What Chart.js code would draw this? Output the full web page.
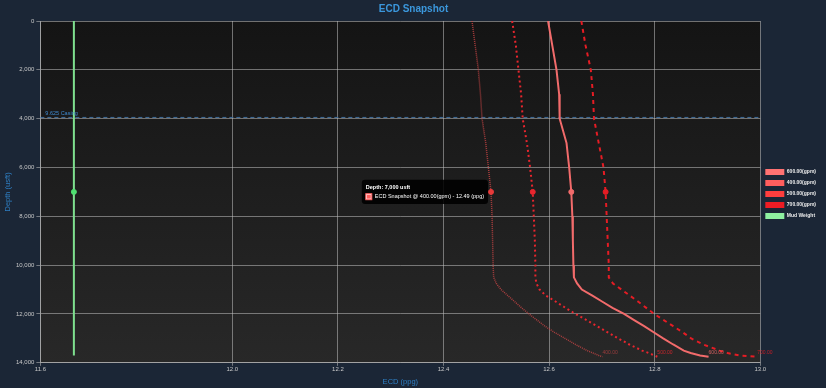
<!DOCTYPE html>
<html lang="en">
<head>
<meta charset="UTF-8">
<title>ECD Snapshot</title>
<script src="https://cdn.jsdelivr.net/npm/chart.js"></script>
<style>
  html, body { margin: 0; padding: 0; background: #1b2636; }
  #wrap { width: 826px; height: 388px; position: relative; }
</style>
</head>
<body>
<div id="wrap"><canvas id="chart"></canvas></div>
<script>
// depth (usft) shared by the four ECD curves
const depths = [0, 1000, 2000, 3000, 4000, 5000, 6000, 7000, 8000, 9000, 10000, 10500, 10750,
  11000, 11250, 11500, 11750, 12000, 12250, 12500, 12750, 13000, 13250, 13500, 13600, 13700, 13750];

// ECD (ppg) per flow rate
const ecd600 = [12.598, 12.606, 12.614, 12.619, 12.620, 12.633, 12.638, 12.642, 12.644, 12.645, 12.646, 12.647, 12.653,
  12.662, 12.682, 12.701, 12.720, 12.742, 12.761, 12.780, 12.798, 12.816, 12.835, 12.855, 12.868, 12.886, 12.902];
const ecd400 = [12.454, 12.460, 12.466, 12.470, 12.473, 12.480, 12.485, 12.490, 12.492, 12.493, 12.494, 12.495, 12.500,
  12.509, 12.522, 12.535, 12.548, 12.562, 12.577, 12.592, 12.610, 12.630, 12.650, 12.672, 12.683, 12.694, 12.701];
const ecd500 = [12.530, 12.537, 12.542, 12.547, 12.550, 12.558, 12.564, 12.569, 12.571, 12.573, 12.574, 12.574, 12.576,
  12.582, 12.594, 12.613, 12.631, 12.650, 12.671, 12.691, 12.711, 12.731, 12.752, 12.776, 12.789, 12.799, 12.805];
const ecd700 = [12.661, 12.669, 12.679, 12.683, 12.685, 12.694, 12.703, 12.707, 12.709, 12.711, 12.713, 12.713, 12.721,
  12.737, 12.753, 12.769, 12.784, 12.799, 12.817, 12.835, 12.853, 12.869, 12.892, 12.923, 12.938, 12.961, 12.994];

const flowRates = ['600.00', '400.00', '500.00', '700.00'];

const mwDepths = [0, 7000, 13700];
const mudWeight = [11.7, 11.7, 11.7];

const casingName = '9.625 Casing';
const casingDepth = [3950, 3950];
const casingX = [11.6365, 13.0];

const snapshotDepth = 7000;
const xMin = 11.6365, xMax = 13.0;
const xTicks = [11.6365, 12.0, 12.2, 12.4, 12.6, 12.8, 13.0];

const lineColors = ['#f26b6b', 'rgba(205,70,70,0.8)', '#e8262e', '#e51c24'];
const legendColors = ['#ff7272', '#ff5e5e', '#ff3e3e', '#ee1c24', '#8ef0a0'];
const dashes = [[], [1, 1], [2, 3], [4, 4]];
const FONT = 'Arial, "Liberation Sans", sans-serif';

const ecdSeries = [ecd600, ecd400, ecd500, ecd700];
const datasets = ecdSeries.map((vals, i) => ({
  label: flowRates[i] + '(gpm)',
  gpm: flowRates[i],
  data: vals.map((v, k) => ({ x: v, y: depths[k] })),
  borderColor: lineColors[i],
  backgroundColor: legendColors[i],
  borderWidth: i === 1 ? 1.5 : 2,
  borderDash: dashes[i],
  pointRadius: 0,
  pointHoverRadius: 2.5,
  pointHoverBorderWidth: 1,
  pointHoverBackgroundColor: i === 1 ? '#e83a3a' : lineColors[i],
  pointHoverBorderColor: i === 1 ? '#e83a3a' : lineColors[i],
  showLine: true,
  tension: 0
}));
datasets.push({
  label: 'Mud Weight',
  data: mudWeight.map((v, k) => ({ x: v, y: mwDepths[k] })),
  borderColor: '#7fe08f',
  backgroundColor: legendColors[4],
  borderWidth: 2,
  pointRadius: 0,
  pointHoverRadius: 2.5,
  pointHoverBackgroundColor: '#4fe070',
  pointHoverBorderColor: '#4fe070',
  showLine: true
});
datasets.push({
  label: casingName,
  data: casingX.map((v, k) => ({ x: v, y: casingDepth[k] })),
  borderColor: '#3f6f9e',
  borderWidth: 1,
  borderDash: [4, 3],
  pointRadius: 0,
  pointHoverRadius: 0,
  showLine: true
});

const areaBg = {
  id: 'areaBg',
  beforeDraw(chart) {
    const { ctx, chartArea: a } = chart;
    const g = ctx.createLinearGradient(0, a.top, 0, a.bottom);
    g.addColorStop(0, '#141414');
    g.addColorStop(1, '#282828');
    ctx.save();
    ctx.fillStyle = g;
    ctx.fillRect(a.left, a.top, a.right - a.left, a.bottom - a.top);
    ctx.restore();
  }
};

const endLabels = {
  id: 'endLabels',
  afterDatasetsDraw(chart) {
    const ctx = chart.ctx;
    ctx.save();
    ctx.font = '5px ' + FONT;
    ctx.textAlign = 'left';
    ctx.textBaseline = 'bottom';
    for (let i = 0; i < 4; i++) {
      const pts = chart.getDatasetMeta(i).data;
      const p = pts[pts.length - 1];
      ctx.fillStyle = lineColors[i];
      ctx.globalAlpha = 0.85;
      ctx.fillText(chart.data.datasets[i].gpm, p.x, p.y - 2);
    }
    // casing label
    const cm = chart.getDatasetMeta(5).data[0];
    ctx.globalAlpha = 1;
    ctx.fillStyle = '#3f88cc';
    ctx.font = '5.5px ' + FONT;
    ctx.fillText(casingName, chart.chartArea.left + 5, cm.y - 1);
    ctx.restore();
  }
};

const chart = new Chart(document.getElementById('chart'), {
  type: 'scatter',
  data: { datasets },
  options: {
    responsive: true,
    maintainAspectRatio: false,
    animation: false,
    events: [],
    layout: { padding: { left: 1, right: 0, top: 0, bottom: 0 } },
    scales: {
      x: {
        type: 'linear',
        min: xMin,
        max: xMax,
        afterBuildTicks: scale => { scale.ticks = xTicks.map(v => ({ value: v })); },
        ticks: {
          color: '#c8c8c8',
          padding: 0,
          font: { family: FONT, size: 6 },
          callback: v => v.toFixed(1)
        },
        grid: { color: 'rgba(190,190,190,0.55)', tickLength: 3 },
        border: { color: 'rgba(190,190,190,0.6)' },
        title: { display: true, text: 'ECD (ppg)', color: '#2e7fc4', font: { family: FONT, size: 7.5 }, padding: { top: 4, bottom: 2 } }
      },
      y: {
        type: 'linear',
        reverse: true,
        min: 0,
        max: 14000,
        ticks: { stepSize: 2000, color: '#c8c8c8', padding: 2, font: { family: FONT, size: 6 } },
        grid: { color: 'rgba(190,190,190,0.55)', tickLength: 4 },
        border: { color: 'rgba(190,190,190,0.6)' },
        title: { display: true, text: 'Depth (usft)', color: '#2e7fc4', font: { family: FONT, size: 7.5 }, padding: 2 }
      }
    },
    plugins: {
      title: {
        display: true,
        text: 'ECD Snapshot',
        color: '#3b97dc',
        font: { family: FONT, size: 10, weight: 'bold' },
        padding: { top: 3, bottom: 6 }
      },
      legend: {
        position: 'right',
        labels: {
          color: '#ececec',
          boxWidth: 19,
          boxHeight: 6,
          padding: 5,
          font: { family: FONT, size: 5, weight: 'bold' },
          filter: item => item.datasetIndex < 5,
          generateLabels(c) {
            return Chart.defaults.plugins.legend.labels.generateLabels(c).map(l => Object.assign(l, {
              fillStyle: legendColors[l.datasetIndex],
              strokeStyle: legendColors[l.datasetIndex],
              lineWidth: 0,
              lineDash: []
            }));
          }
        }
      },
      tooltip: {
        animation: false,
        backgroundColor: 'rgba(0,0,0,0.88)',
        titleColor: '#ffffff',
        bodyColor: '#ffffff',
        titleFont: { family: FONT, size: 5.5, weight: 'bold' },
        bodyFont: { family: FONT, size: 5.5 },
        padding: 4,
        caretSize: 0,
        caretPadding: 3,
        cornerRadius: 3,
        titleMarginBottom: 3,
        boxWidth: 6,
        boxHeight: 6,
        boxPadding: 1,
        callbacks: {
          title: items => 'Depth: ' + items[0].parsed.y.toLocaleString('en-US') + ' usft',
          label: item => 'ECD Snapshot @ ' + item.dataset.gpm + '(gpm) - ' + item.parsed.x.toFixed(2) + ' (ppg)',
          labelColor: item => ({ borderColor: legendColors[item.datasetIndex], backgroundColor: legendColors[item.datasetIndex] })
        }
      }
    }
  },
  plugins: [areaBg, endLabels]
});

// snapshot hover at 7,000 usft
const hi = depths.indexOf(snapshotDepth);
const active = [0, 1, 2, 3].map(i => ({ datasetIndex: i, index: hi }));
active.push({ datasetIndex: 4, index: mwDepths.indexOf(snapshotDepth) });
chart.setActiveElements(active);
const el = chart.getDatasetMeta(1).data[hi];
chart.tooltip.setActiveElements([{ datasetIndex: 1, index: hi }], { x: el.x, y: el.y });
chart.render();
</script>
</body>
</html>
